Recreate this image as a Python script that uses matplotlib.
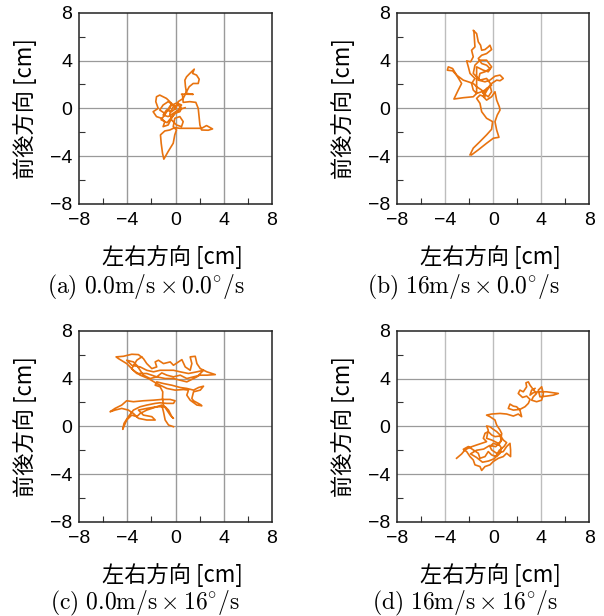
import matplotlib
matplotlib.use('Agg')
import matplotlib.pyplot as plt
from matplotlib.ticker import MultipleLocator

plt.rcParams['mathtext.fontset'] = 'cm'

# ---------------- data (cm) ----------------
major_ticks = [-8, -4, 0, 4, 8]
tick_labels = ['−8', '−4', '0', '4', '8']
xlabel_text = '左右方向 [cm]'
ylabel_text = '前後方向 [cm]'
captions = [r'$\mathrm{(a)\ 0.0m/s}\times\mathrm{0.0^{\circ}/s}$',
            r'$\mathrm{(b)\ 16m/s}\times\mathrm{0.0^{\circ}/s}$',
            r'$\mathrm{(c)\ 0.0m/s}\times\mathrm{16^{\circ}/s}$',
            r'$\mathrm{(d)\ 16m/s}\times\mathrm{16^{\circ}/s}$']

a_x = [0.00, -0.19, -0.61, -1.03, -1.31, -0.89, -0.47, -0.33, -0.75, -1.31,
       -1.58, -1.64, -1.44, -1.86, -1.58, -1.17, -0.89, -1.03, -0.61, -0.33,
       -0.06, 0.36, 0.50, 0.22, -0.19, -0.47, -0.33, 0.08, 0.50, 0.64,
       0.36, -0.06, -0.19, 0.08, -0.06, -0.19, -0.61, -0.97, -1.08, -1.19,
       -1.25, -0.89, -0.47, -0.06, 0.36, 1.19, 2.17, 2.58, 3.08, 2.72,
       2.17, 2.03, 1.89, 1.69, 1.19, 0.64, 0.58, 0.50, 1.47, 0.92,
       0.83, 0.78, 0.92, 1.19, 1.56, 1.42, 1.75, 1.97, 1.89, 1.47,
       1.14, 0.92, 0.64, 0.22, 0.03, -0.33, -0.75, -1.03, -0.61, -0.19,
       0.22, 0.50, 0.10, -0.45, -0.90, -1.20, -0.70, -0.25, 0.30, 0.80]
a_y = [0.00, 0.28, 0.56, 0.28, -0.14, -0.42, 0.00, 0.42, 0.83, 1.11,
       0.97, 0.56, 0.00, -0.28, -0.69, -0.83, -1.11, -1.53, -1.39, -0.83,
       -0.42, -0.28, 0.00, 0.28, 0.14, -0.42, -0.97, -1.39, -1.53, -1.11,
       -0.69, -0.83, -1.53, -1.81, -2.22, -2.92, -3.61, -4.25, -3.75, -2.92,
       -2.22, -1.89, -1.81, -1.61, -1.67, -1.67, -1.67, -1.44, -1.72, -1.83,
       -1.81, -1.39, 0.00, 0.50, 0.56, 0.50, 1.11, 1.19, 1.17, 1.25,
       1.81, 2.36, 2.64, 2.92, 3.28, 2.92, 2.78, 2.44, 2.08, 2.08,
       1.81, 1.39, 0.83, 0.56, 0.00, -0.28, -0.14, -0.56, -0.69, -0.42,
       -0.14, 0.28, 0.45, 0.20, -0.55, -0.95, -1.20, -0.65, -0.10, 0.05]

b_path = [(-1.94, -3.89), (-1.67, -3.33), (-1.11, -2.78), (-0.56, -2.22), (-0.14, -1.75),
          (-0.06, -1.11), (-0.56, -0.83), (-0.97, -0.28), (-1.11, 0.42), (-1.39, 0.83),
          (-1.11, 1.11), (-0.69, 0.97), (-0.97, 1.53), (-1.39, 1.81), (-1.67, 2.08),
          (-2.50, 2.36), (-3.06, 2.78), (-3.39, 3.14), (-3.83, 3.19), (-3.75, 3.47),
          (-3.39, 3.33), (-3.11, 2.86), (-2.64, 2.08), (-2.92, 1.53), (-3.28, 0.78),
          (-2.50, 0.89), (-1.67, 0.97), (-1.39, 1.25), (-1.67, 1.53), (-1.81, 2.08),
          (-1.53, 2.50), (-1.94, 2.92), (-2.08, 3.47), (-2.22, 3.97), (-1.89, 3.89),
          (-1.67, 4.31), (-1.81, 4.86), (-1.53, 5.14), (-1.61, 6.39), (-1.67, 6.53),
          (-1.39, 6.25), (-1.25, 5.56), (-1.06, 5.28), (-0.97, 4.86), (-0.69, 4.92),
          (-0.42, 5.14), (-0.28, 5.28), (-0.14, 4.92), (-0.56, 4.58), (-0.97, 4.44),
          (-1.25, 4.17), (-0.97, 3.75), (-0.56, 3.61), (-0.28, 3.33), (-0.69, 3.06),
          (-1.11, 2.92), (-1.25, 2.36), (-0.69, 2.22), (-0.28, 2.36), (0.14, 2.69),
          (0.56, 2.78), (0.83, 2.50), (0.56, 2.31), (0.28, 2.36), (-0.14, 2.08),
          (-0.42, 1.67), (-0.97, 1.39), (-1.39, 1.25), (-1.39, 3.47), (-0.83, 3.19),
          (-0.42, 3.06), (-0.14, 3.47), (-0.56, 4.03), (-1.11, 4.03), (-1.53, 3.61),
          (-1.67, 2.92), (-1.11, 2.36), (-0.56, 2.50), (-0.14, 1.94), (-0.56, 1.67),
          (-0.83, 1.25), (-0.42, 0.97), (-0.14, 1.39), (-0.28, 1.94), (-0.83, 0.97),
          (-0.56, 0.69), (-0.14, 0.97), (0.14, 1.39), (0.28, 0.69), (0.50, 0.14),
          (0.56, -0.14), (0.33, -0.56), (0.14, -1.11), (0.28, -1.81), (0.47, -2.42),
          (0.00, -2.50), (-0.56, -2.92), (-1.25, -3.47), (-1.81, -3.89)]

c_path = [(-0.17, -0.03), (-0.58, 0.11), (-0.86, 0.53), (-1.00, 1.22), (-1.14, 1.78),
          (-1.56, 1.64), (-2.39, 1.36), (-2.94, 1.08), (-3.22, 0.81), (-3.64, 0.94),
          (-4.06, 0.53), (-4.39, -0.25), (-4.28, 0.25), (-3.92, 0.81), (-3.50, 1.36),
          (-2.94, 1.64), (-2.39, 1.78), (-1.69, 1.92), (-1.28, 1.97), (-0.72, 1.92),
          (-0.17, 1.92), (-0.03, 2.14), (-0.44, 2.25), (-1.14, 2.25), (-1.83, 2.19),
          (-2.67, 2.14), (-3.50, 2.06), (-4.06, 2.14), (-4.47, 1.78), (-5.03, 1.50),
          (-5.44, 1.22), (-5.03, 1.36), (-4.47, 1.50), (-3.92, 1.36), (-3.50, 1.08),
          (-3.08, 0.67), (-2.39, 0.53), (-1.69, 0.53), (-1.97, 0.81), (-2.67, 0.94),
          (-3.08, 1.36), (-2.39, 1.50), (-1.56, 1.64), (-0.86, 1.64), (-0.58, 1.36),
          (-0.31, 0.81), (-0.17, 0.67), (-0.44, 0.94), (-0.72, 1.36), (-1.00, 1.78),
          (-1.08, 2.33), (-1.06, 2.89), (-1.28, 3.31), (-1.69, 3.44), (-1.56, 3.72),
          (-1.00, 3.58), (-0.31, 3.44), (0.39, 3.25), (0.94, 3.17), (1.50, 3.03),
          (1.92, 3.25), (2.33, 3.36), (2.06, 3.03), (1.50, 2.89), (1.36, 2.33),
          (1.50, 2.14), (2.06, 1.83), (2.19, 1.72), (1.78, 1.78), (1.22, 2.19),
          (0.94, 2.61), (1.08, 3.03), (0.67, 3.08), (-0.03, 3.03), (-0.72, 3.17),
          (-1.56, 3.58), (-2.25, 4.00), (-2.94, 4.28), (-3.50, 4.69), (-4.06, 5.25),
          (-4.75, 5.67), (-4.94, 5.81), (-4.33, 5.86), (-3.64, 6.03), (-3.08, 6.00),
          (-2.67, 5.67), (-2.39, 5.25), (-1.97, 4.83), (-1.56, 4.97), (-1.69, 5.39),
          (-1.42, 5.53), (-1.00, 5.25), (-0.44, 5.39), (-0.17, 5.11), (0.25, 5.39),
          (0.53, 5.58), (0.81, 4.97), (1.22, 4.69), (1.36, 5.25), (1.22, 5.81),
          (1.64, 5.86), (1.78, 5.25), (2.06, 4.83), (2.61, 4.56), (3.31, 4.33),
          (2.61, 4.28), (2.06, 4.28), (1.50, 4.14), (0.94, 4.00), (0.39, 4.28),
          (-0.17, 4.14), (-0.72, 4.28), (-1.14, 4.47), (-1.56, 4.14), (-2.11, 4.00),
          (-2.67, 4.28), (-2.94, 4.69), (-3.22, 5.11), (-3.50, 5.39), (-4.06, 5.53),
          (-3.64, 5.11), (-2.94, 4.97), (-2.39, 4.69), (-1.83, 4.56), (-1.28, 4.69),
          (-0.72, 4.69), (-0.17, 4.69), (0.39, 4.56), (1.08, 4.42), (1.78, 4.56),
          (2.33, 4.69), (1.78, 4.14), (0.94, 3.72), (0.39, 3.86), (-0.17, 4.00),
          (-0.86, 4.00), (-1.56, 4.14), (-2.39, 4.42), (-3.22, 4.42), (-3.64, 4.83),
          (-3.22, 5.53), (-2.81, 5.81)]

d_path = [(-3.06, -2.67), (-2.64, -2.31), (-2.36, -1.97), (-1.94, -1.75), (-1.39, -1.56),
          (-0.97, -1.42), (-0.56, -1.28), (-0.83, -1.00), (-0.69, -0.58), (-0.42, -0.44),
          (-0.14, -0.72), (0.14, -0.86), (0.56, -0.81), (0.69, -1.14), (0.42, -1.56),
          (0.00, -1.42), (-0.28, -1.69), (-0.14, -1.97), (0.28, -2.25), (0.83, -2.11),
          (1.11, -1.69), (1.39, -1.42), (1.44, -1.97), (1.44, -2.53), (1.11, -2.25),
          (0.83, -2.53), (0.42, -2.67), (0.00, -2.94), (-0.28, -3.22), (-0.69, -3.36),
          (-0.97, -3.69), (-1.11, -3.36), (-1.53, -3.22), (-1.67, -2.81), (-1.94, -2.53),
          (-2.22, -2.11), (-2.50, -1.92), (-2.08, -1.69), (-1.67, -1.97), (-1.25, -2.25),
          (-1.11, -2.67), (-0.69, -2.53), (-0.42, -2.11), (-0.14, -2.39), (0.28, -2.53),
          (0.56, -2.25), (0.69, -1.83), (0.42, -1.42), (0.14, -1.28), (-0.14, -1.14),
          (-0.56, -1.00), (-0.42, -0.31), (-0.56, 0.03), (-0.28, -0.03), (0.00, -0.25),
          (0.28, -0.44), (0.56, -0.72), (0.83, -1.14), (1.11, -1.36), (0.89, -1.69),
          (0.50, -2.00), (0.10, -2.70), (-0.40, -2.90), (-0.90, -3.00), (-1.40, -2.60),
          (-1.90, -2.30), (-1.40, -2.00), (-0.80, -1.90), (-0.30, -1.60), (0.20, -1.70),
          (0.60, -1.30), (0.70, -0.60),
          (0.56, -0.31), (0.28, 0.11), (0.14, 0.53), (-0.28, 0.81), (-0.56, 0.94),
          (-0.14, 1.03), (0.56, 1.08), (1.11, 1.03), (1.67, 0.86), (2.08, 1.03),
          (2.36, 0.81), (2.22, 1.36), (1.94, 1.64), (1.67, 1.69), (1.39, 1.86),
          (1.25, 1.50), (1.67, 1.36), (2.22, 1.42), (2.64, 1.64), (2.92, 1.92),
          (3.06, 2.25), (2.78, 2.53), (2.44, 2.42), (2.08, 2.75), (2.22, 3.03),
          (2.50, 2.89), (2.78, 3.31), (2.72, 3.64), (2.92, 3.72), (3.06, 3.44),
          (3.33, 3.08), (3.61, 2.75), (3.33, 2.47), (3.19, 2.19), (3.61, 2.06),
          (4.03, 2.19), (4.17, 2.75), (4.03, 3.31), (3.75, 3.03), (3.89, 2.47),
          (4.44, 2.53), (5.00, 2.61), (5.42, 2.75), (5.00, 2.81), (4.44, 2.89),
          (3.75, 2.89), (3.33, 2.81), (3.06, 2.61), (3.19, 3.03), (3.47, 3.17)]

paths = [list(zip(a_x, a_y)), b_path, c_path, d_path]

# ---------------- layout ----------------
W, H = 604, 616
fig = plt.figure(figsize=(W / 100, H / 100), dpi=100)
boxes = [(79.3, 12.7, 271.7, 204.0), (397.3, 12.7, 589.3, 204.0),
         (79.3, 330.7, 271.7, 522.0), (397.3, 330.7, 589.3, 522.0)]
cap_pos = [(146, 287), (463, 287), (145, 603), (465, 603)]
vgrid_colors = ['#9a9a9a', '#bdbdbd', '#9a9a9a', '#bdbdbd']
line_color = '#E8730F'
tick_font = ['Liberation Sans', 'Noto Sans CJK JP']
label_font = ['Noto Sans CJK JP', 'DejaVu Sans']

for i, (path, box) in enumerate(zip(paths, boxes)):
    l, t, r, b = box
    ax = fig.add_axes([l / W, 1 - b / H, (r - l) / W, (b - t) / H])
    xs = [p[0] for p in path]
    ys = [p[1] for p in path]
    ax.plot(xs, ys, color=line_color, lw=1.2, solid_joinstyle='round', zorder=3)
    ax.set_xlim(-8, 8)
    ax.set_ylim(-8, 8)
    ax.set_xticks(major_ticks)
    ax.set_yticks(major_ticks)
    ax.set_xticklabels(tick_labels, fontfamily=tick_font, fontsize=14)
    ax.set_yticklabels(tick_labels, fontfamily=tick_font, fontsize=14)
    ax.xaxis.set_minor_locator(MultipleLocator(2))
    ax.yaxis.set_minor_locator(MultipleLocator(2))
    ax.tick_params(which='major', length=0)
    ax.tick_params(axis='x', which='major', pad=6)
    ax.tick_params(axis='y', which='major', pad=5)
    ax.tick_params(which='minor', direction='in', length=4, width=0.8,
                   color='#333333', top=False, right=False)
    for v in [-4, 0, 4]:
        ax.axvline(v, color=vgrid_colors[i], lw=1.0, zorder=1)
        ax.axhline(v, color='#9a9a9a', lw=0.9, zorder=1)
    for s in ax.spines.values():
        s.set_color('#222222')
        s.set_linewidth(1.1)
    ax.set_xlabel(xlabel_text, fontfamily=label_font, fontsize=16)
    ax.xaxis.set_label_coords(0.485, -53 / (b - t))
    ax.xaxis.label.set_va('center')
    ax.set_ylabel(ylabel_text, fontfamily=label_font, fontsize=16)
    ax.yaxis.set_label_coords(-54 / (r - l), 0.5)
    ax.yaxis.label.set_va('center')
    cx, cy = cap_pos[i]
    fig.text(cx / W, 1 - cy / H, captions[i], ha='center', va='center', fontsize=17)

fig.savefig('out.png', dpi=100)
